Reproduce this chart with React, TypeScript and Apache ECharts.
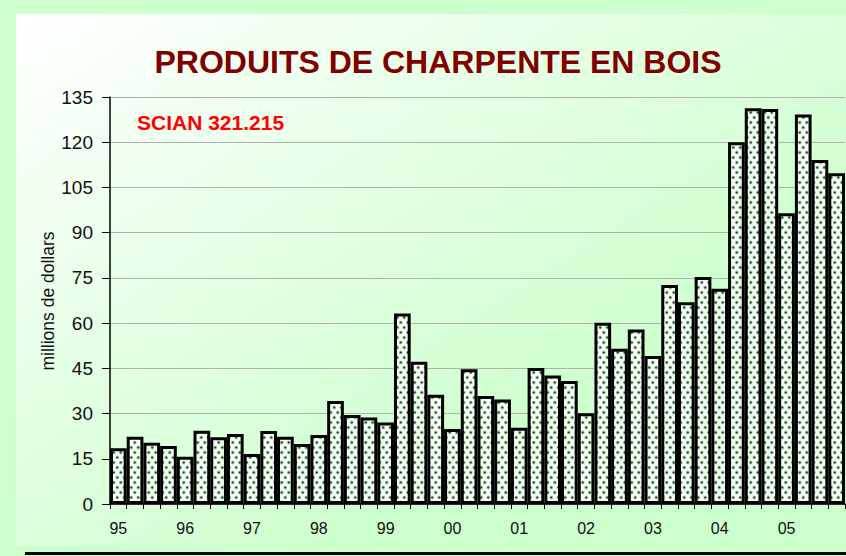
import React, { useEffect, useRef } from "react";
import * as echarts from "echarts";

const years = ["95", "96", "97", "98", "99", "00", "01", "02", "03", "04", "05"];
const quarters = ["T1", "T2", "T3", "T4"];
const categories: string[] = years.flatMap((y) => quarters.map((q) => y + " " + q));

const v1995 = [18.5, 22.3, 20.3, 19.2];
const v1996 = [15.7, 24.3, 22.1, 23.2];
const v1997 = [16.6, 24.2, 22.3, 19.9];
const v1998 = [22.9, 34.2, 29.5, 28.7];
const v1999 = [27.0, 63.2, 47.2, 36.2];
const v2000 = [24.9, 44.7, 35.8, 34.7];
const v2001 = [25.3, 45.1, 42.6, 40.8];
const v2002 = [30.1, 60.1, 51.5, 57.9];
const v2003 = [49.1, 72.6, 66.9, 75.3];
const v2004 = [71.4, 120.0, 131.3, 131.0];
const v2005 = [96.4, 129.2, 114.1, 109.7];
const values = [
  ...v1995, ...v1996, ...v1997, ...v1998, ...v1999, ...v2000,
  ...v2001, ...v2002, ...v2003, ...v2004, ...v2005,
];

const yTicks = { min: 0, max: 135, interval: 15 };
const titleText = "PRODUITS DE CHARPENTE EN BOIS";
const subtitleText = "SCIAN 321.215";
const yAxisName = "millions de dollars";

const FONT = "'Liberation Sans', Arial, Helvetica, sans-serif";
const NARROW = "'Liberation Sans Narrow', 'Arial Narrow', 'Liberation Sans', Arial, sans-serif";

function makePattern(): HTMLCanvasElement {
  const c = document.createElement("canvas");
  c.width = 7;
  c.height = 10;
  const ctx = c.getContext("2d")!;
  ctx.fillStyle = "#f8fff8";
  ctx.fillRect(0, 0, 7, 10);
  const dot = (x: number, y: number) => {
    ctx.fillStyle = "rgba(110,165,110,0.55)";
    ctx.beginPath();
    ctx.arc(x, y, 1.9, 0, Math.PI * 2);
    ctx.fill();
    ctx.fillStyle = "#1f4a1f";
    ctx.beginPath();
    ctx.arc(x, y, 1.1, 0, Math.PI * 2);
    ctx.fill();
  };
  dot(1.75, 2.5);
  dot(5.25, 7.5);
  return c;
}

export default function App() {
  const ref = useRef<HTMLDivElement>(null);
  useEffect(() => {
    if (!ref.current) return;
    const chart = echarts.init(ref.current, undefined, { renderer: "svg" });
    const pattern = makePattern();
    chart.setOption({
      animation: false,
      backgroundColor: "#ccffcc",
      title: {
        text: titleText,
        left: 433,
        top: 41,
        textAlign: "center",
        textStyle: {
          fontFamily: FONT,
          fontSize: 32,
          fontWeight: "bold",
          color: "#800000",
        },
      },
      graphic: [
        {
          type: "rect",
          z: -10,
          silent: true,
          shape: { x: 16, y: 14, width: 830, height: 532 },
          style: {
            fill: {
              type: "linear",
              x: 0,
              y: 0,
              x2: 1,
              y2: 1,
              colorStops: [
                { offset: 0, color: "#ffffff" },
                { offset: 0.72, color: "#ccffcc" },
                { offset: 1, color: "#ccffcc" },
              ],
            },
          },
        },
        {
          type: "text",
          z: 10,
          left: 137,
          top: 112,
          style: {
            text: subtitleText,
            fill: "#ff0000",
            font: "bold 21px " + FONT,
          },
        },
        {
          type: "text",
          z: 10,
          x: 48,
          y: 301,
          rotation: Math.PI / 2,
          style: {
            text: yAxisName,
            fill: "#111",
            font: "17.5px " + NARROW,
            align: "center",
            verticalAlign: "middle",
          },
        },
        {
          type: "rect",
          z: 10,
          silent: true,
          shape: { x: 25, y: 552, width: 821, height: 3 },
          style: { fill: "#000000" },
        },
      ],
      grid: { left: 110, top: 97, right: 1, bottom: 52, containLabel: false },
      xAxis: {
        type: "category",
        data: categories,
        boundaryGap: true,
        axisLine: { lineStyle: { color: "#000", width: 1.5 } },
        axisTick: { show: true, interval: 0, length: 5, lineStyle: { color: "#000" } },
        axisLabel: {
          interval: 3,
          margin: 16,
          formatter: (v: string) => v.split(" ")[0],
          fontFamily: NARROW,
          fontSize: 16,
          color: "#111",
        },
        splitLine: { show: false },
      },
      yAxis: {
        type: "value",
        min: yTicks.min,
        max: yTicks.max,
        interval: yTicks.interval,
        axisLine: { show: true, lineStyle: { color: "#000", width: 1.5 } },
        axisTick: { show: true, length: 8, lineStyle: { color: "#000" } },
        axisLabel: { margin: 17, fontFamily: NARROW, fontSize: 19, color: "#111" },
        splitLine: { show: true, lineStyle: { color: "#b0b0b0", width: 1 } },
      },
      series: [
        {
          type: "bar",
          data: values,
          barCategoryGap: "0%",
          itemStyle: {
            color: { image: pattern, repeat: "repeat" },
            borderColor: "#000",
            borderWidth: 3,
          },
        },
      ],
    });
    return () => chart.dispose();
  }, []);
  return (
    <div
      ref={ref}
      style={{ position: "fixed", left: 0, top: 0, width: 846, height: 556 }}
    />
  );
}
